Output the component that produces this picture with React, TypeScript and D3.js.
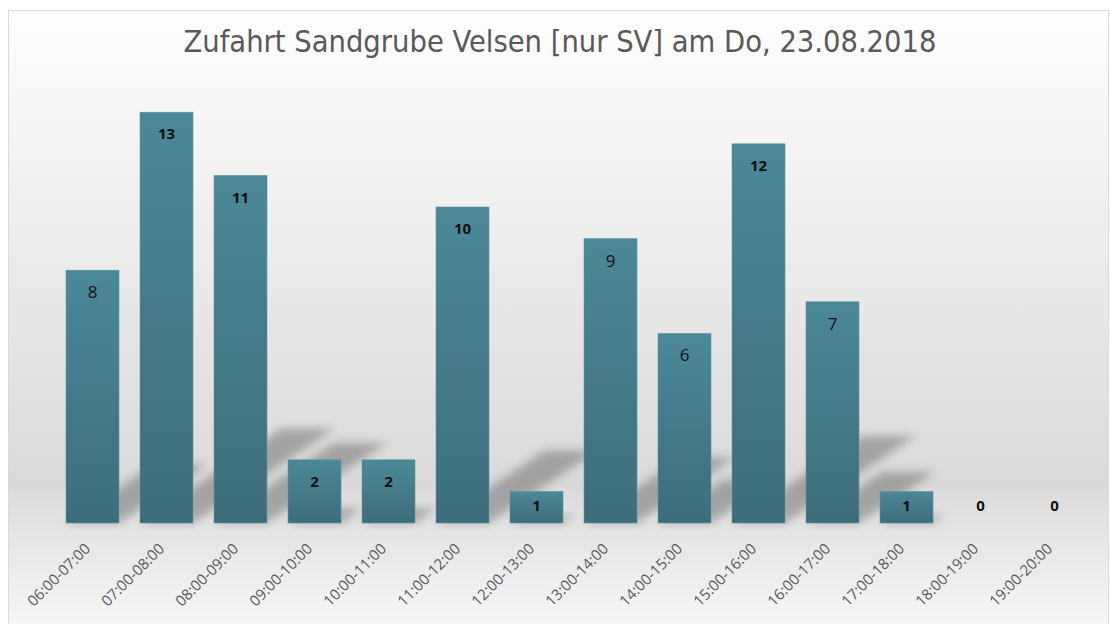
import React from 'react';
import * as d3 from 'd3';

// Zeitfenster und gezählte Fahrzeuge (Schwerverkehr)
const timeSlots = [
  '06:00-07:00', '07:00-08:00', '08:00-09:00', '09:00-10:00', '10:00-11:00',
  '11:00-12:00', '12:00-13:00', '13:00-14:00', '14:00-15:00', '15:00-16:00',
  '16:00-17:00', '17:00-18:00', '18:00-19:00', '19:00-20:00',
];
const counts = [8, 13, 11, 2, 2, 10, 1, 9, 6, 12, 7, 1, 0, 0];
const titleText = 'Zufahrt Sandgrube Velsen [nur SV] am Do, 23.08.2018';

const W = 1110;
const H = 624;
const baseline = 523;

export default function App() {
  const x = d3.scaleBand<string>()
    .domain(timeSlots)
    .range([55.5, 1091.5])
    .paddingInner(0.284)
    .paddingOuter(0.142);
  const y = d3.scaleLinear().domain([0, 14]).range([baseline, baseline - 442.4]);

  const data = timeSlots.map((t, i) => ({ t, v: counts[i] }));
  const bw = x.bandwidth();
  const numFont = "'Open Sans', 'DejaVu Sans', sans-serif";

  return (
    <svg width={W} height={H} style={{ position: 'absolute', left: 0, top: 0 }}>
      <defs>
        <linearGradient id="bg" x1="0" y1="0" x2="0" y2="1">
          <stop offset="0" stopColor="#fefefe" />
          <stop offset="0.25" stopColor="#f2f2f2" />
          <stop offset="0.5" stopColor="#e6e6e6" />
          <stop offset="0.74" stopColor="#dadada" />
          <stop offset="0.84" stopColor="#e8e8e8" />
          <stop offset="1" stopColor="#fbfbfb" />
        </linearGradient>
        <linearGradient id="bar" x1="0" y1="0" x2="0" y2="1">
          <stop offset="0" stopColor="#4c8898" />
          <stop offset="1" stopColor="#3d6d7a" />
        </linearGradient>
        <filter id="blur" x="-30%" y="-30%" width="160%" height="160%">
          <feGaussianBlur stdDeviation="5" />
        </filter>
      </defs>

      <rect x={8.5} y={10.5} width={1100} height={640} fill="url(#bg)" stroke="#d9d9d9" />

      <text x={560} y={52} textAnchor="middle" fill="#595959"
        fontFamily="'DejaVu Sans Condensed', 'DejaVu Sans', sans-serif" fontSize={30.5}>
        {titleText}
      </text>

      {/* Schatten */}
      <g filter="url(#blur)" fill="#000" opacity={0.26}>
        {data.filter(d => d.v > 0).map(d => {
          const x0 = x(d.t)!;
          const sh = (baseline - y(d.v)) * 0.23;
          const dx = sh * 1.5;
          const pts = [
            [x0, baseline], [x0 + bw, baseline],
            [x0 + bw + dx, baseline - sh], [x0 + dx, baseline - sh],
          ];
          return <polygon key={'s' + d.t} points={pts.map(p => p.join(',')).join(' ')} />;
        })}
      </g>

      {data.map(d => (
        <rect key={d.t} x={x(d.t)} y={y(d.v)} width={bw} height={baseline - y(d.v)}
          fill="url(#bar)" stroke="#5f95a3" strokeWidth={0.6} />
      ))}

      {data.map(d => {
        const small = d.v > 9 || d.v < 3;
        return (
          <text key={'l' + d.t} x={x(d.t)! + bw / 2}
            y={Math.min(y(d.v) + 22, baseline - 17)} dy="0.35em" textAnchor="middle"
            fill="#111" fontFamily={numFont} fontSize={small ? 15 : 17}
            fontWeight={small ? 700 : 400}>
            {d.v}
          </text>
        );
      })}

      {timeSlots.map(t => {
        const cx = x(t)! + bw / 2 - 5;
        const cy = 546;
        return (
          <text key={'a' + t} x={cx} y={cy} dy="0.35em" textAnchor="end" fill="#595959"
            fontFamily={numFont} fontSize={15}
            transform={`rotate(-45, ${cx}, ${cy})`}>
            {t}
          </text>
        );
      })}
    </svg>
  );
}
